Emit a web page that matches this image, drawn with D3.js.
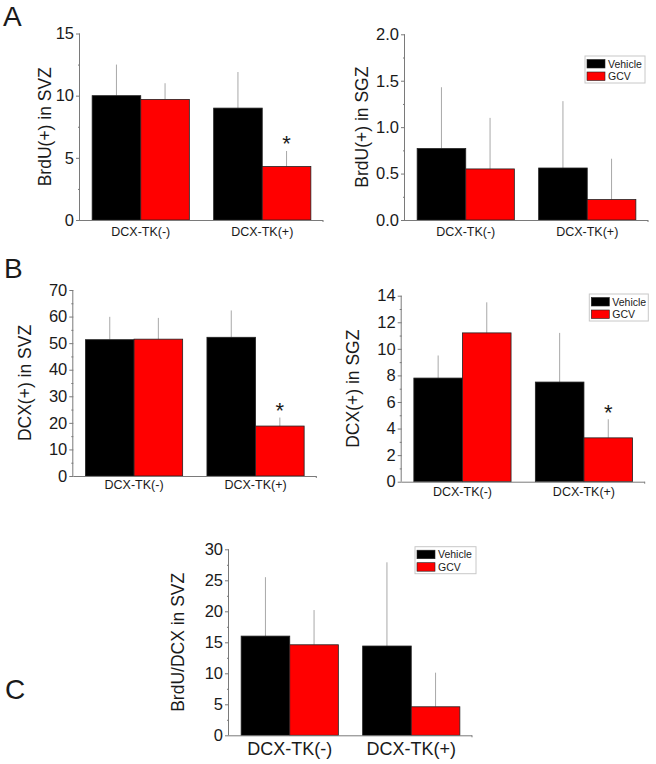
<!DOCTYPE html>
<html>
<head>
<meta charset="utf-8">
<script src="https://cdn.jsdelivr.net/npm/d3@7"></script>
<style>
  html, body { margin: 0; padding: 0; background: #fff; }
  svg { display: block; font-family: Arial, "Liberation Sans", Helvetica, sans-serif; }
</style>
</head>
<body>
<svg id="chart" width="656" height="764"></svg>
<script>
// ---------- DATA ----------
const categories = ["DCX-TK(-)", "DCX-TK(+)"];
const seriesNames = ["Vehicle", "GCV"];

// A left: BrdU(+) in SVZ
const brduSVZ_vehicle = [10.0, 9.0];
const brduSVZ_gcv     = [9.7, 4.3];
const brduSVZ_vehicleErr = [2.5, 2.9];
const brduSVZ_gcvErr     = [1.3, 1.25];
const brduSVZ_sig = [false, true];
const brduSVZ_ticks = [0, 5, 10, 15];

// A right: BrdU(+) in SGZ
const brduSGZ_vehicle = [0.77, 0.56];
const brduSGZ_gcv     = [0.55, 0.22];
const brduSGZ_vehicleErr = [0.66, 0.72];
const brduSGZ_gcvErr     = [0.55, 0.44];
const brduSGZ_sig = [false, false];
const brduSGZ_ticks = [0, 0.5, 1.0, 1.5, 2.0];

// B left: DCX(+) in SVZ
const dcxSVZ_vehicle = [51.3, 52.2];
const dcxSVZ_gcv     = [51.5, 18.8];
const dcxSVZ_vehicleErr = [8.6, 10.1];
const dcxSVZ_gcvErr     = [8.0, 3.2];
const dcxSVZ_sig = [false, true];
const dcxSVZ_ticks = [0, 10, 20, 30, 40, 50, 60, 70];

// B right: DCX(+) in SGZ
const dcxSGZ_vehicle = [7.8, 7.5];
const dcxSGZ_gcv     = [11.2, 3.3];
const dcxSGZ_vehicleErr = [1.7, 3.7];
const dcxSGZ_gcvErr     = [2.3, 1.4];
const dcxSGZ_sig = [false, true];
const dcxSGZ_ticks = [0, 2, 4, 6, 8, 10, 12, 14];

// C: BrdU/DCX in SVZ
const ratio_vehicle = [16.0, 14.4];
const ratio_gcv     = [14.6, 4.6];
const ratio_vehicleErr = [9.5, 13.5];
const ratio_gcvErr     = [5.6, 5.5];
const ratio_sig = [false, false];
const ratio_ticks = [0, 5, 10, 15, 20, 25, 30];

const panelLetters = ["A", "B", "C"];

// ---------- DRAW ----------
const svg = d3.select("#chart");
const colors = d3.scaleOrdinal().domain(seriesNames).range(["#000000", "#ff0000"]);
const AXIS = "#7a7a7a";
const TEXT = "#1a1a1a";

function drawPanel(cfg) {
  const {x0, yTop, yBottom, width, ticks, fmt, yLabel, labelOffset,
         vehicle, gcv, vErr, gErr, sig, xFont, xLabelDy, legend} = cfg;
  const g = svg.append("g");
  const x = d3.scaleBand().domain(categories).range([x0, x0 + width])
              .paddingInner(0.2).paddingOuter(0.1);
  const xs = d3.scaleBand().domain(seriesNames).range([0, x.bandwidth()]);
  const yMax = ticks[ticks.length - 1];
  const y = d3.scaleLinear().domain([0, yMax]).range([yBottom, yTop]);

  const rows = [];
  categories.forEach((c, i) => {
    rows.push({cat: c, s: "Vehicle", v: vehicle[i], e: vErr[i], sig: false});
    rows.push({cat: c, s: "GCV", v: gcv[i], e: gErr[i], sig: sig[i]});
  });

  // error bars (behind bars)
  g.selectAll("line.err").data(rows).join("line")
    .attr("class", "err")
    .attr("x1", d => x(d.cat) + xs(d.s) + xs.bandwidth() / 2)
    .attr("x2", d => x(d.cat) + xs(d.s) + xs.bandwidth() / 2)
    .attr("y1", d => y(d.v))
    .attr("y2", d => y(d.v + d.e))
    .attr("stroke", "#a8a8a8").attr("stroke-width", 1);

  // bars
  g.selectAll("rect.bar").data(rows).join("rect")
    .attr("class", "bar")
    .attr("x", d => x(d.cat) + xs(d.s))
    .attr("y", d => y(d.v))
    .attr("width", xs.bandwidth())
    .attr("height", d => y(0) - y(d.v))
    .attr("fill", d => colors(d.s))
    .attr("stroke", "#222").attr("stroke-width", 0.8);

  // significance asterisks
  g.selectAll("text.sig").data(rows.filter(d => d.sig)).join("text")
    .attr("class", "sig")
    .attr("x", d => x(d.cat) + xs(d.s) + xs.bandwidth() / 2)
    .attr("y", d => y(d.v + d.e) + 0.5)
    .attr("text-anchor", "middle")
    .attr("font-size", 22).attr("fill", TEXT)
    .text("*");

  // y axis
  const minor = d3.range(0, ticks.length - 1).map(i => (ticks[i] + ticks[i + 1]) / 2);
  const yAxisMinor = d3.axisLeft(y).tickValues(minor).tickSize(2).tickFormat("");
  const ym = g.append("g").attr("transform", `translate(${x0},0)`).call(yAxisMinor);
  ym.select(".domain").remove();
  ym.selectAll("line").attr("stroke", AXIS);

  const yAxis = d3.axisLeft(y).tickValues(ticks).tickSize(4).tickPadding(2).tickFormat(d3.format(fmt));
  const ya = g.append("g").attr("transform", `translate(${x0},0)`).call(yAxis);
  ya.select(".domain").attr("stroke", AXIS).attr("d", `M-0.5,${yBottom}V${yTop}`);
  ya.selectAll("line").attr("stroke", AXIS);
  ya.selectAll("text").attr("font-size", 16.5).attr("fill", TEXT)
    .attr("font-family", "Arial, 'Liberation Sans', sans-serif");

  // x axis
  const xa = g.append("g").attr("transform", `translate(0,${yBottom})`)
    .call(d3.axisBottom(x).tickSize(0).tickPadding(xLabelDy));
  xa.select(".domain").attr("stroke", AXIS).attr("d", `M${x0},0.5H${x0 + width}`);
  xa.selectAll("text").attr("font-size", xFont).attr("fill", TEXT)
    .attr("font-family", "Arial, 'Liberation Sans', sans-serif");
  // end tick
  g.append("line").attr("x1", x0 + width).attr("x2", x0 + width)
    .attr("y1", yBottom).attr("y2", yBottom + 2).attr("stroke", AXIS);

  // y label
  g.append("text")
    .attr("transform", `translate(${x0 - labelOffset},${(yTop + yBottom) / 2}) rotate(-90)`)
    .attr("text-anchor", "middle").attr("dominant-baseline", "central")
    .attr("font-size", 17.5).attr("fill", TEXT)
    .text(yLabel);

  // legend
  if (legend) {
    const lg = g.append("g").attr("transform", `translate(${legend.x},${legend.y})`);
    lg.append("rect").attr("width", legend.w).attr("height", 27)
      .attr("fill", "#fff").attr("stroke", "#c8c8c8").attr("stroke-width", 1);
    seriesNames.forEach((s, i) => {
      lg.append("rect").attr("x", 2).attr("y", 3.5 + i * 12.5).attr("width", 18).attr("height", 8.5)
        .attr("fill", colors(s)).attr("stroke", "#222").attr("stroke-width", 0.6);
      lg.append("text").attr("x", 23).attr("y", 11.5 + i * 12.5)
        .attr("font-size", 10.5).attr("fill", TEXT).text(s);
    });
  }
}

drawPanel({x0: 80, yTop: 33.5, yBottom: 220, width: 243, ticks: brduSVZ_ticks, fmt: "d",
  yLabel: "BrdU(+) in SVZ", labelOffset: 35, vehicle: brduSVZ_vehicle, gcv: brduSVZ_gcv,
  vErr: brduSVZ_vehicleErr, gErr: brduSVZ_gcvErr, sig: brduSVZ_sig, xFont: 12.5, xLabelDy: 7});

drawPanel({x0: 405, yTop: 34.3, yBottom: 220, width: 243, ticks: brduSGZ_ticks, fmt: ".1f",
  yLabel: "BrdU(+) in SGZ", labelOffset: 43, vehicle: brduSGZ_vehicle, gcv: brduSGZ_gcv,
  vErr: brduSGZ_vehicleErr, gErr: brduSGZ_gcvErr, sig: brduSGZ_sig, xFont: 12.5, xLabelDy: 7,
  legend: {x: 585, y: 56, w: 60}});

drawPanel({x0: 73.3, yTop: 290, yBottom: 476, width: 243, ticks: dcxSVZ_ticks, fmt: "d",
  yLabel: "DCX(+) in SVZ", labelOffset: 48, vehicle: dcxSVZ_vehicle, gcv: dcxSVZ_gcv,
  vErr: dcxSVZ_vehicleErr, gErr: dcxSVZ_gcvErr, sig: dcxSVZ_sig, xFont: 12.5, xLabelDy: 4});

drawPanel({x0: 401.7, yTop: 295.7, yBottom: 481.7, width: 243, ticks: dcxSGZ_ticks, fmt: "d",
  yLabel: "DCX(+) in SGZ", labelOffset: 49, vehicle: dcxSGZ_vehicle, gcv: dcxSGZ_gcv,
  vErr: dcxSGZ_vehicleErr, gErr: dcxSGZ_gcvErr, sig: dcxSGZ_sig, xFont: 12.5, xLabelDy: 5,
  legend: {x: 589.3, y: 294, w: 59}});

drawPanel({x0: 229, yTop: 549.3, yBottom: 735.3, width: 243, ticks: ratio_ticks, fmt: "d",
  yLabel: "BrdU/DCX in SVZ", labelOffset: 51, vehicle: ratio_vehicle, gcv: ratio_gcv,
  vErr: ratio_vehicleErr, gErr: ratio_gcvErr, sig: ratio_sig, xFont: 18, xLabelDy: 7,
  legend: {x: 415, y: 546.7, w: 61}});

// panel letters
const letterPos = [[3, 26], [4, 278], [5, 699]];
svg.selectAll("text.letter").data(panelLetters).join("text")
  .attr("class", "letter")
  .attr("x", (d, i) => letterPos[i][0]).attr("y", (d, i) => letterPos[i][1])
  .attr("font-size", 28).attr("fill", TEXT).text(d => d);
</script>
</body>
</html>
